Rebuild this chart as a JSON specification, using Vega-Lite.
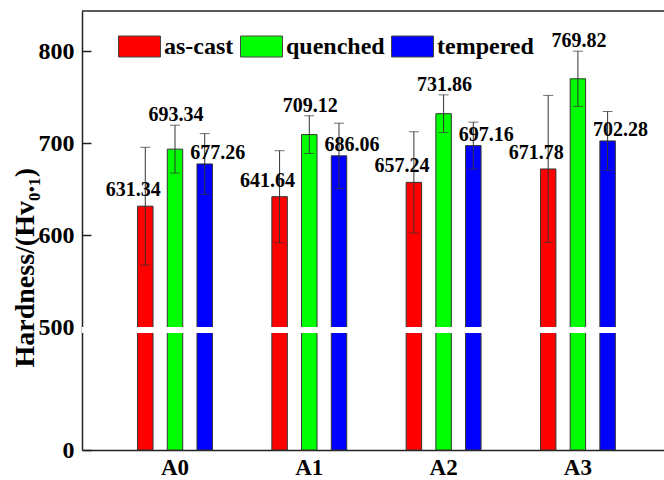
{
  "$schema": "https://vega.github.io/schema/vega-lite/v6.json",
  "width": 582,
  "height": 439,
  "autosize": {"type": "none"},
  "padding": {"left": 82, "top": 11, "right": 0, "bottom": 30},
  "background": "white",
  "config": {
    "font": "Liberation Serif",
    "view": {"stroke": null}
  },
  "data": {
    "values": [
      {"g": "A0", "s": "as-cast", "mean": 631.34, "lo": 567.34, "hi": 695.34},
      {"g": "A0", "s": "quenched", "mean": 693.34, "lo": 667.34, "hi": 719.34},
      {"g": "A0", "s": "tempered", "mean": 677.26, "lo": 644.26, "hi": 710.26},
      {"g": "A1", "s": "as-cast", "mean": 641.64, "lo": 591.64, "hi": 691.64},
      {"g": "A1", "s": "quenched", "mean": 709.12, "lo": 688.62, "hi": 729.62},
      {"g": "A1", "s": "tempered", "mean": 686.06, "lo": 650.56, "hi": 721.56},
      {"g": "A2", "s": "as-cast", "mean": 657.24, "lo": 602.24, "hi": 712.24},
      {"g": "A2", "s": "quenched", "mean": 731.86, "lo": 711.36, "hi": 752.36},
      {"g": "A2", "s": "tempered", "mean": 697.16, "lo": 671.66, "hi": 722.66},
      {"g": "A3", "s": "as-cast", "mean": 671.78, "lo": 591.78, "hi": 751.78},
      {"g": "A3", "s": "quenched", "mean": 769.82, "lo": 739.82, "hi": 799.82},
      {"g": "A3", "s": "tempered", "mean": 702.28, "lo": 670.28, "hi": 734.28}
    ]
  },
  "layer": [
    {
      "encoding": {
        "x": {
          "field": "g",
          "type": "nominal",
          "scale": {"paddingInner": 0, "paddingOuter": 0.1668, "align": 0.577},
          "axis": {
            "title": null,
            "ticks": false,
            "labelAngle": 0,
            "labelFont": "Liberation Serif",
            "labelFontSize": 23,
            "labelFontWeight": "bold",
            "labelColor": "black",
            "labelPadding": 6,
            "domainColor": "#222",
            "domainWidth": 1.5
          }
        },
        "xOffset": {
          "field": "s",
          "type": "nominal",
          "scale": {"domain": ["as-cast", "quenched", "tempered"], "paddingInner": 0.48, "paddingOuter": 1.23}
        }
      },
      "layer": [
        {
          "mark": {"type": "bar", "stroke": "#333", "strokeWidth": 1},
          "encoding": {
            "y": {
              "field": "mean",
              "type": "quantitative",
              "stack": null,
              "scale": {"domain": [0, 495, 500, 843.5], "range": [439, 322, 316, 0], "nice": false, "zero": false},
              "axis": {
                "title": "Hardness/(Hv₀.₁)",
                "values": [0, 500, 600, 700, 800],
                "grid": false,
                "labelFont": "Liberation Serif",
                "labelFontSize": 24,
                "labelFontWeight": "bold",
                "labelColor": "black",
                "labelPadding": 17,
                "tickSize": -9,
                "tickColor": "#222",
                "tickWidth": 1.5,
                "tickOpacity": {"condition": {"test": "datum.value === 500", "value": 0}, "value": 1},
                "domainColor": "#222",
                "domainWidth": 1.5,
                "titleFont": "Liberation Serif",
                "titleFontSize": 28,
                "titleFontWeight": "bold",
                "titleColor": "black",
                "titleAlign": "left",
                "titleBaseline": "alphabetic",
                "titleX": -49,
                "titleY": 356
              }
            },
            "color": {
              "field": "s",
              "type": "nominal",
              "scale": {"domain": ["as-cast", "quenched", "tempered"], "range": ["#ff0000", "#00ff00", "#0000ff"]},
              "legend": {
                "orient": "none",
                "legendX": 36,
                "legendY": 14,
                "direction": "horizontal",
                "title": null,
                "padding": 0,
                "symbolType": "M-1,-0.5H1V0.5H-1Z",
                "symbolSize": 1764,
                "symbolStrokeColor": "#444",
                "symbolStrokeWidth": 1,
                "symbolOpacity": 1,
                "labelFont": "Liberation Serif",
                "labelFontSize": 24,
                "labelFontWeight": "bold",
                "labelColor": "black",
                "labelOffset": 3,
                "columnPadding": 4
              }
            }
          }
        },
        {
          "mark": {"type": "rule", "color": "#333", "strokeWidth": 1},
          "encoding": {
            "y": {"field": "lo", "type": "quantitative", "scale": {"domain": [0, 495, 500, 843.5], "range": [439, 322, 316, 0], "nice": false, "zero": false}},
            "y2": {"field": "hi"}
          }
        },
        {
          "mark": {"type": "tick", "size": 10, "thickness": 1, "color": "#333"},
          "encoding": {
            "y": {"field": "hi", "type": "quantitative", "scale": {"domain": [0, 495, 500, 843.5], "range": [439, 322, 316, 0], "nice": false, "zero": false}}
          }
        },
        {
          "mark": {"type": "tick", "size": 10, "thickness": 1, "color": "#333"},
          "encoding": {
            "y": {"field": "lo", "type": "quantitative", "scale": {"domain": [0, 495, 500, 843.5], "range": [439, 322, 316, 0], "nice": false, "zero": false}}
          }
        },
        {
          "transform": [{"filter": "datum.s === 'as-cast'"}],
          "mark": {"type": "text", "dx": -12, "dy": -16, "fontSize": 20, "fontWeight": "bold", "baseline": "middle", "color": "black", "font": "Liberation Serif"},
          "encoding": {
            "y": {"field": "mean", "type": "quantitative", "scale": {"domain": [0, 495, 500, 843.5], "range": [439, 322, 316, 0], "nice": false, "zero": false}},
            "text": {"field": "mean", "type": "quantitative", "format": ".2f"}
          }
        },
        {
          "transform": [{"filter": "datum.s === 'quenched'"}],
          "mark": {"type": "text", "dx": 1, "dy": -10, "fontSize": 20, "fontWeight": "bold", "baseline": "middle", "color": "black", "font": "Liberation Serif"},
          "encoding": {
            "y": {"field": "hi", "type": "quantitative", "scale": {"domain": [0, 495, 500, 843.5], "range": [439, 322, 316, 0], "nice": false, "zero": false}},
            "text": {"field": "mean", "type": "quantitative", "format": ".2f"}
          }
        },
        {
          "transform": [{"filter": "datum.s === 'tempered'"}],
          "mark": {"type": "text", "dx": 13, "dy": -11, "fontSize": 20, "fontWeight": "bold", "baseline": "middle", "color": "black", "font": "Liberation Serif"},
          "encoding": {
            "y": {"field": "mean", "type": "quantitative", "scale": {"domain": [0, 495, 500, 843.5], "range": [439, 322, 316, 0], "nice": false, "zero": false}},
            "text": {"field": "mean", "type": "quantitative", "format": ".2f"}
          }
        }
      ]
    },
    {
      "data": {"values": [{"from": 495, "to": 500}]},
      "mark": {"type": "rect", "color": "white"},
      "encoding": {
        "y": {"field": "from", "type": "quantitative", "scale": {"domain": [0, 495, 500, 843.5], "range": [439, 322, 316, 0], "nice": false, "zero": false}},
        "y2": {"field": "to"}
      }
    },
    {
      "data": {"values": [{"top": 843.5}]},
      "mark": {"type": "rule", "color": "#222", "strokeWidth": 1.5},
      "encoding": {
        "y": {"field": "top", "type": "quantitative", "scale": {"domain": [0, 495, 500, 843.5], "range": [439, 322, 316, 0], "nice": false, "zero": false}}
      }
    }
  ]
}
